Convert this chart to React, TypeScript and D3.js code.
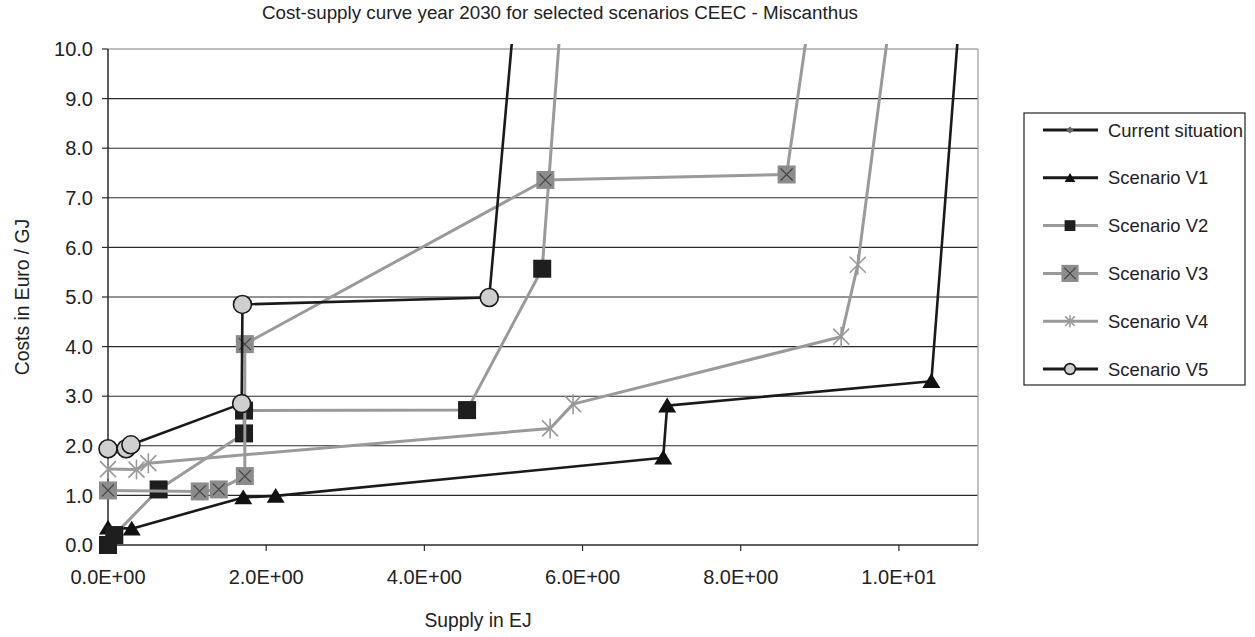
import React from "react";
import * as d3 from "d3";

const TITLE = "Cost-supply curve year 2030 for selected scenarios CEEC - Miscanthus";
const X_TITLE = "Supply in EJ";
const Y_TITLE = "Costs in Euro / GJ";

const xTicks = [0, 2, 4, 6, 8, 10];
const xTickLabels = ["0.0E+00", "2.0E+00", "4.0E+00", "6.0E+00", "8.0E+00", "1.0E+01"];
const yTicks = [0, 1, 2, 3, 4, 5, 6, 7, 8, 9, 10];
const yTickLabels = ["0.0", "1.0", "2.0", "3.0", "4.0", "5.0", "6.0", "7.0", "8.0", "9.0", "10.0"];

const seriesNames = ["Current situation", "Scenario V1", "Scenario V2", "Scenario V3", "Scenario V4", "Scenario V5"];

// [supply EJ, cost Euro/GJ]
const currentSituation: [number, number][] = [];
const scenarioV1: [number, number][] = [
  [0, 0.35], [0.3, 0.33], [1.71, 0.96], [2.12, 0.99], [7.02, 1.76], [7.07, 2.81], [10.41, 3.3], [10.83, 12],
];
const scenarioV2: [number, number][] = [
  [0, 0], [0.08, 0.2], [0.64, 1.12], [1.72, 2.25], [1.72, 2.71], [4.54, 2.72], [5.49, 5.57], [5.79, 12],
];
const scenarioV3: [number, number][] = [
  [0, 1.1], [1.16, 1.08], [1.4, 1.12], [1.73, 1.39], [1.73, 4.05], [5.53, 7.36], [8.58, 7.47], [8.99, 12],
];
const scenarioV4: [number, number][] = [
  [0, 1.53], [0.36, 1.52], [0.51, 1.65], [5.59, 2.35], [5.88, 2.84], [9.27, 4.2], [9.48, 5.65], [10.0, 12],
];
const scenarioV5: [number, number][] = [
  [0, 1.94], [0.23, 1.94], [0.29, 2.02], [1.69, 2.85], [1.7, 4.85], [4.82, 4.99], [5.21, 12],
];

const seriesData = [currentSituation, scenarioV1, scenarioV2, scenarioV3, scenarioV4, scenarioV5];
const seriesLineColors = ["#1a1a1a", "#1a1a1a", "#9a9a9a", "#9a9a9a", "#9a9a9a", "#1a1a1a"];
const seriesMarkers = ["diamond", "triangle", "square", "xsquare", "asterisk", "circle"];

const FONT = "'Liberation Sans', Arial, sans-serif";

function Marker({ kind, x, y, s }: { kind: string; x: number; y: number; s: number }) {
  switch (kind) {
    case "diamond": {
      const h = 6 * s;
      return <path d={`M${x},${y - h}L${x + h},${y}L${x},${y + h}L${x - h},${y}Z`} fill="#666" />;
    }
    case "triangle": {
      const w = 9 * s, h = 8 * s;
      return <path d={`M${x},${y - h}L${x + w},${y + h * 0.85}L${x - w},${y + h * 0.85}Z`} fill="#111" />;
    }
    case "square": {
      const h = 9 * s;
      return <rect x={x - h} y={y - h} width={2 * h} height={2 * h} fill="#1e1e1e" />;
    }
    case "xsquare": {
      const h = 9 * s, k = 6 * s;
      return (
        <g>
          <rect x={x - h} y={y - h} width={2 * h} height={2 * h} fill="#8c8c8c" />
          <path d={`M${x - k},${y - k}L${x + k},${y + k}M${x - k},${y + k}L${x + k},${y - k}`} stroke="#444" strokeWidth={1.2} />
        </g>
      );
    }
    case "asterisk": {
      const k = 8 * s, v = 10 * s;
      return (
        <path
          d={`M${x - k},${y - k}L${x + k},${y + k}M${x - k},${y + k}L${x + k},${y - k}M${x},${y - v}L${x},${y + v}`}
          stroke="#9a9a9a"
          strokeWidth={1.6}
          fill="none"
        />
      );
    }
    case "circle":
    default:
      return <circle cx={x} cy={y} r={9 * s} fill="#cfcfcf" stroke="#1a1a1a" strokeWidth={1.6} />;
  }
}

export default function App() {
  const W = 1255, H = 637;
  const x = d3.scaleLinear().domain([0, 11]).range([108, 978]);
  const y = d3.scaleLinear().domain([0, 10]).range([545, 49]);
  const line = d3
    .line<[number, number]>()
    .x((d) => x(d[0]))
    .y((d) => y(d[1]));

  const clipTop = y(10.1);

  const legX = 1024, legY = 113, legW = 221, legH = 272;

  return (
    <svg width={W} height={H} style={{ position: "absolute", left: 0, top: 0, background: "#fff" }} fontFamily={FONT}>
      <defs>
        <clipPath id="plotclip">
          <rect x={x(0) - 12} y={clipTop} width={x(11) - x(0) + 12} height={y(0) - clipTop + 14} />
        </clipPath>
      </defs>
      <rect x={0} y={0} width={W} height={H} fill="#fff" />
      {yTicks.slice(1, -1).map((t) => (
        <line key={t} x1={x(0)} x2={x(11)} y1={y(t)} y2={y(t)} stroke="#2a2a2a" strokeWidth={1.1} />
      ))}
      <line x1={x(0)} x2={x(11)} y1={y(10)} y2={y(10)} stroke="#a8a8a8" strokeWidth={1.4} />
      <line x1={x(11)} x2={x(11)} y1={y(10)} y2={y(0)} stroke="#a8a8a8" strokeWidth={1.4} />
      <line x1={x(0)} x2={x(0)} y1={y(10)} y2={y(0)} stroke="#2a2a2a" strokeWidth={1.5} />
      <line x1={x(0)} x2={x(11)} y1={y(0)} y2={y(0)} stroke="#2a2a2a" strokeWidth={1.5} />
      {yTicks.map((t, i) => (
        <g key={t}>
          <line x1={x(0) - 6} x2={x(0)} y1={y(t)} y2={y(t)} stroke="#2a2a2a" strokeWidth={1.2} />
          <text x={93} y={y(t)} dy="0.36em" textAnchor="end" fontSize={20} fill="#222">
            {yTickLabels[i]}
          </text>
        </g>
      ))}
      {xTicks.map((t, i) => (
        <g key={t}>
          <line x1={x(t)} x2={x(t)} y1={y(0)} y2={y(0) + 6} stroke="#2a2a2a" strokeWidth={1.2} />
          <text x={x(t)} y={584} textAnchor="middle" fontSize={20} fill="#222">
            {xTickLabels[i]}
          </text>
        </g>
      ))}
      <g clipPath="url(#plotclip)">
        {seriesData.map((data, si) =>
          data.length ? (
            <g key={si}>
              <path
                d={line(data) || ""}
                fill="none"
                stroke={seriesLineColors[si]}
                strokeWidth={si === 1 || si === 5 || si === 0 ? 2.6 : 3}
                strokeLinejoin="round"
              />
              {data.map((d, j) => (
                <Marker key={j} kind={seriesMarkers[si]} x={x(d[0])} y={y(d[1])} s={1} />
              ))}
            </g>
          ) : null
        )}
      </g>
      <text x={560} y={19} textAnchor="middle" fontSize={18.8} fill="#222">
        {TITLE}
      </text>
      <text x={478} y={627} textAnchor="middle" fontSize={19.3} fill="#222">
        {X_TITLE}
      </text>
      <text transform={`translate(29,${(y(0) + y(10)) / 2}) rotate(-90)`} textAnchor="middle" fontSize={19.3} fill="#222">
        {Y_TITLE}
      </text>
      <rect x={legX} y={legY} width={legW} height={legH} fill="#fff" stroke="#222" strokeWidth={1.2} />
      {seriesNames.map((name, i) => {
        const cy = 130 + i * 47.8;
        return (
          <g key={name}>
            <line x1={1043} x2={1098} y1={cy} y2={cy} stroke={seriesLineColors[i]} strokeWidth={3} />
            <Marker kind={seriesMarkers[i]} x={1070} y={cy} s={seriesMarkers[i] === "xsquare" ? 0.95 : 0.6} />
            <text x={1108} y={cy} dy="0.36em" fontSize={18.4} fill="#222">
              {name}
            </text>
          </g>
        );
      })}
    </svg>
  );
}
